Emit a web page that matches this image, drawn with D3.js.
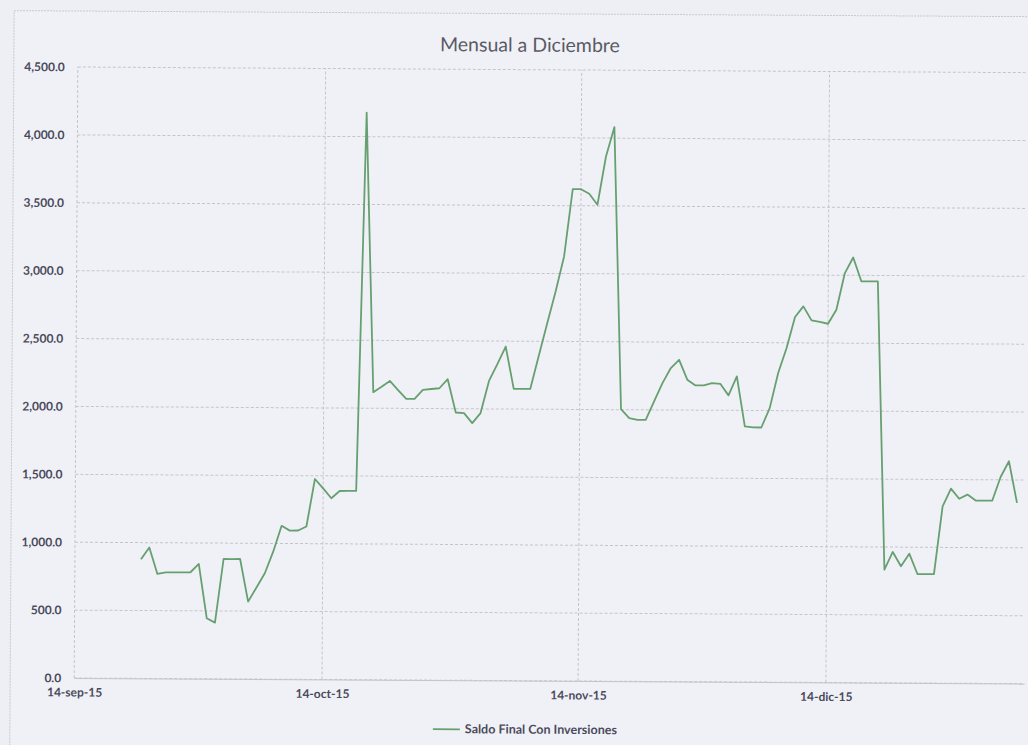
<!DOCTYPE html>
<html>
<head>
<meta charset="utf-8">
<script src="https://cdnjs.cloudflare.com/ajax/libs/d3/7.8.5/d3.min.js"></script>
<style>
  html, body { margin: 0; padding: 0; background: #eeeff5; }
  svg { display: block; }
  .tick text { font-family: Lato, "Open Sans", sans-serif; }
</style>
</head>
<body>
<div id="chart"></div>
<script>
// daily closing balance, first value is 22-sep-15
var startDate = new Date(2015, 8, 22);
var saldo = [
  877, 964, 770, 782, 782, 782, 784, 846, 446, 414,
  883, 883, 884, 570, 675, 780, 939, 1130, 1095, 1096,
  1126, 1476, 1407, 1335, 1389, 1390, 1390, 4177, 2118, 2159,
  2202, 2135, 2070, 2071, 2137, 2144, 2150, 2217, 1972, 1968,
  1895, 1969, 2206, 2330, 2460, 2149, 2149, 2149, 2392, 2632,
  2867, 3126, 3622, 3622, 3589, 3508, 3864, 4081, 2004, 1939,
  1926, 1926, 2062, 2197, 2309, 2370, 2224, 2182, 2182, 2200,
  2195, 2110, 2250, 1882, 1875, 1875, 2018, 2277, 2461, 2690,
  2769, 2666, 2655, 2642, 2746, 3016, 3131, 2956, 2956, 2956,
  833, 964, 859, 952, 803, 803, 803, 1302, 1433, 1359,
  1390, 1346, 1346, 1346, 1521, 1637, 1331
];
var xTicks = [new Date(2015, 8, 14), new Date(2015, 9, 14), new Date(2015, 10, 14), new Date(2015, 11, 14)];
var yTicks = [0, 500, 1000, 1500, 2000, 2500, 3000, 3500, 4000, 4500];
var titulo = "Mensual a Diciembre";
var serie = "Saldo Final Con Inversiones";

var data = saldo.map(function(v, i) {
  return { date: d3.timeDay.offset(startDate, i), value: v };
});

var width = 1028, height = 745;
var margin = { left: 76, right: 2, top: 67, bottom: 67 };

var es = d3.timeFormatLocale({
  dateTime: "%d/%m/%Y", date: "%d/%m/%Y", time: "%H:%M:%S",
  periods: ["AM", "PM"],
  days: ["domingo", "lunes", "martes", "miércoles", "jueves", "viernes", "sábado"],
  shortDays: ["dom", "lun", "mar", "mié", "jue", "vie", "sáb"],
  months: ["enero", "febrero", "marzo", "abril", "mayo", "junio", "julio", "agosto", "septiembre", "octubre", "noviembre", "diciembre"],
  shortMonths: ["ene", "feb", "mar", "abr", "may", "jun", "jul", "ago", "sep", "oct", "nov", "dic"]
});
var fmtDate = es.format("%d-%b-%y");

var svg = d3.select("#chart").append("svg")
  .attr("width", width)
  .attr("height", height);

// the photo is a touch tilted
var g = svg.append("g").attr("transform", "rotate(0.34,74,372)");

g.append("rect")
  .attr("x", 12).attr("y", 11)
  .attr("width", 1040).attr("height", 760)
  .attr("fill", "#f0f1f6")
  .attr("stroke", "#c9c6cf")
  .attr("stroke-dasharray", "2,1");

var x = d3.scaleTime()
  .domain([new Date(2015, 8, 14), new Date(2016, 0, 7)])
  .range([margin.left, width - margin.right]);

var y = d3.scaleLinear()
  .domain([0, 4500])
  .range([height - margin.bottom, margin.top]);

// gridlines
g.append("g")
  .selectAll("line")
  .data(yTicks)
  .enter().append("line")
  .attr("x1", x.range()[0]).attr("x2", x.range()[1])
  .attr("y1", function(d) { return y(d); })
  .attr("y2", function(d) { return y(d); })
  .attr("stroke", "#c8c2cc")
  .attr("stroke-dasharray", "3,2");

g.append("g")
  .selectAll("line")
  .data(xTicks)
  .enter().append("line")
  .attr("x1", function(d) { return x(d); })
  .attr("x2", function(d) { return x(d); })
  .attr("y1", y(0)).attr("y2", y(4500))
  .attr("stroke", "#c8c2cc")
  .attr("stroke-dasharray", "3,2");

var yAxis = g.append("g")
  .attr("transform", "translate(" + margin.left + ",0)")
  .call(d3.axisLeft(y).tickValues(yTicks).tickFormat(d3.format(",.1f")).tickSize(0).tickPadding(13));
yAxis.select(".domain").remove();
yAxis.selectAll("text")
  .attr("font-size", 12)
  .attr("font-weight", "bold")
  .attr("fill", "#4a4a5c");

var xAxis = g.append("g")
  .attr("transform", "translate(0," + y(0) + ")")
  .call(d3.axisBottom(x).tickValues(xTicks).tickFormat(fmtDate).tickSize(0).tickPadding(10));
xAxis.select(".domain").attr("stroke", "#c8c2cc");
xAxis.selectAll("text")
  .attr("font-size", 12)
  .attr("font-weight", "bold")
  .attr("fill", "#4a4a5c");

var line = d3.line()
  .x(function(d) { return x(d.date); })
  .y(function(d) { return y(d.value); });

g.append("path")
  .datum(data)
  .attr("fill", "none")
  .attr("stroke", "#67a070")
  .attr("stroke-width", 1.8)
  .attr("stroke-linejoin", "round")
  .attr("d", line);

g.append("text")
  .attr("x", 528).attr("y", 49)
  .attr("text-anchor", "middle")
  .attr("font-family", "Lato, 'Open Sans', sans-serif")
  .attr("font-size", 19.5)
  .attr("fill", "#5a5a66")
  .text(titulo);

// legend
g.append("line")
  .attr("x1", 435).attr("x2", 462)
  .attr("y1", 727).attr("y2", 727)
  .attr("stroke", "#67a070")
  .attr("stroke-width", 1.8);

g.append("text")
  .attr("x", 467).attr("y", 731)
  .attr("font-family", "Lato, 'Open Sans', sans-serif")
  .attr("font-size", 12.5)
  .attr("font-weight", "bold")
  .attr("fill", "#4a4a5c")
  .text(serie);
</script>
</body>
</html>
